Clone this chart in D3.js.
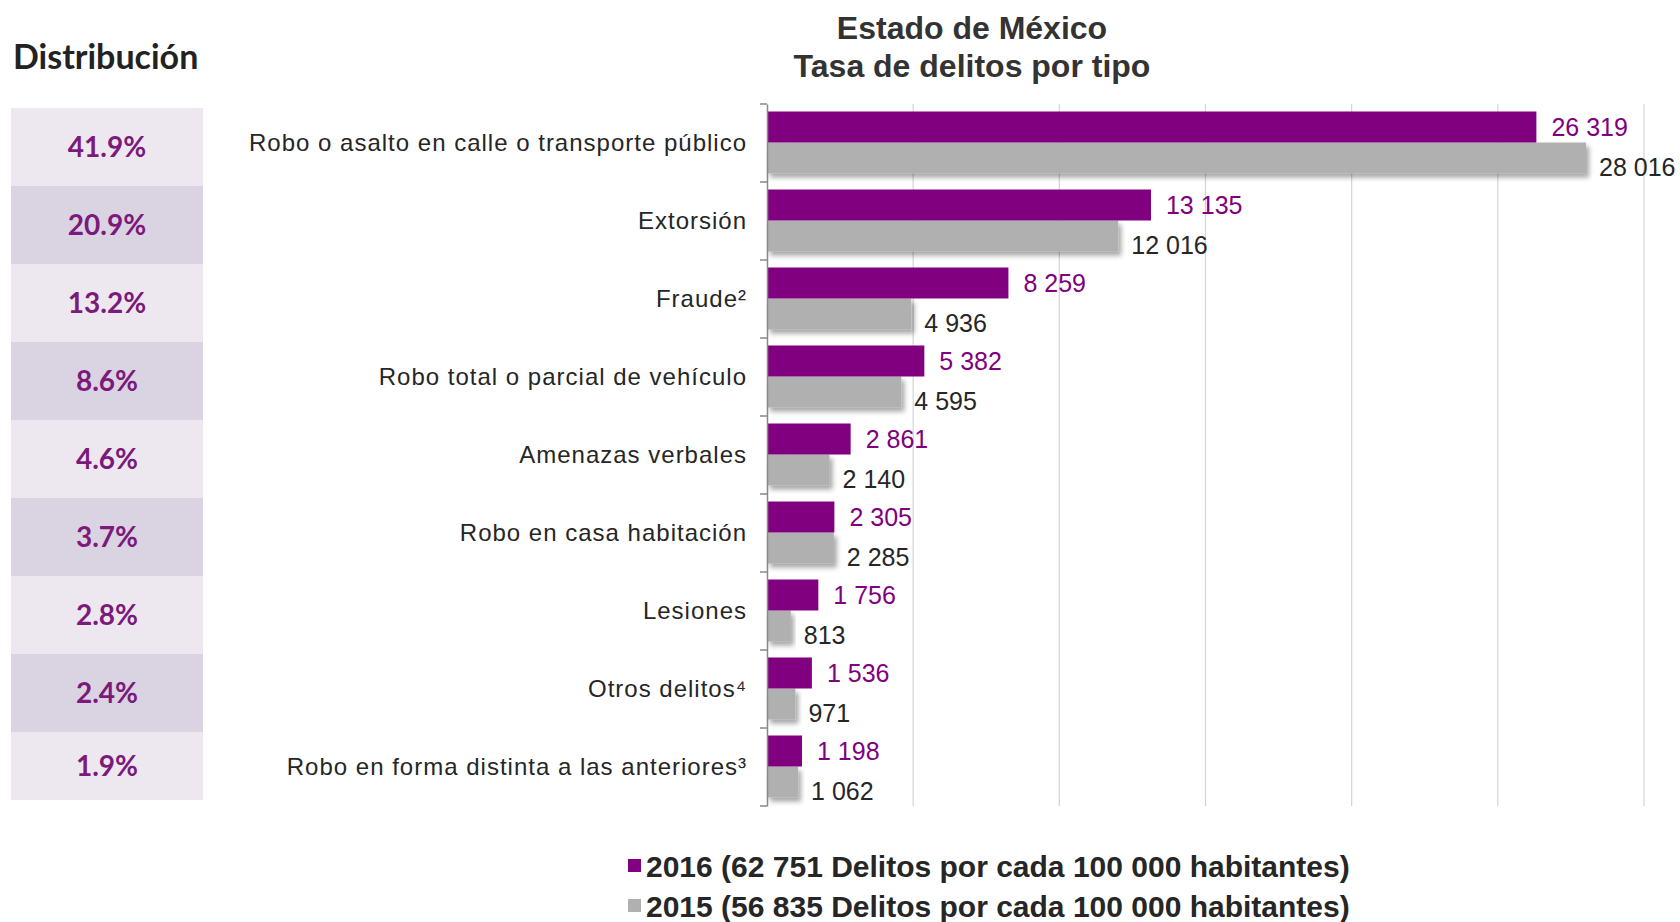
<!DOCTYPE html>
<html><head><meta charset="utf-8">
<script src="https://cdn.jsdelivr.net/npm/d3@7"></script>
<style>
html,body{margin:0;padding:0;background:#fff;}
svg{display:block;}
</style></head>
<body>
<svg id="chart" width="1680" height="922"></svg>
<script>
const categories = [
  "Robo o asalto en calle o transporte público",
  "Extorsión",
  "Fraude²",
  "Robo total o parcial de vehículo",
  "Amenazas verbales",
  "Robo en casa habitación",
  "Lesiones",
  "Otros delitos⁴",
  "Robo en forma distinta a las anteriores³"
];
const values2016 = [26319, 13135, 8259, 5382, 2861, 2305, 1756, 1536, 1198];
const values2015 = [28016, 12016, 4936, 4595, 2140, 2285, 813, 971, 1062];
const distribution = ["41.9%", "20.9%", "13.2%", "8.6%", "4.6%", "3.7%", "2.8%", "2.4%", "1.9%"];
const xTicks = [0, 5000, 10000, 15000, 20000, 25000, 30000];
const legendLabels = [
  "2016 (62 751 Delitos por cada 100 000 habitantes)",
  "2015 (56 835 Delitos por cada 100 000 habitantes)"
];
const titleLines = ["Estado de México", "Tasa de delitos por tipo"];

const PURPLE = "#800080", GRAY = "#b0b0b0", TXT = "#262626";
const FONT = "'Liberation Sans', Arial, sans-serif";
const svg = d3.select("#chart");
const fmt = v => d3.format(",")(v).replace(/,/g, " ");

const defs = svg.append("defs");
const f = defs.append("filter").attr("id","shadow").attr("x","-10%").attr("y","-20%").attr("width","130%").attr("height","170%");
f.append("feDropShadow").attr("dx",3).attr("dy",4).attr("stdDeviation",2.5).attr("flood-color","#000").attr("flood-opacity",0.35);

const x = d3.scaleLinear().domain([0, 30000]).range([767, 1644]);
const y = d3.scaleBand().domain(categories).range([104, 806]).padding(0);
const sub = d3.scaleBand().domain(["2016","2015"]).range([7.5, y.bandwidth()-8.5]).padding(0);

// Title
svg.append("g").selectAll("text").data(titleLines).join("text")
  .attr("x", 972).attr("y", (d,i) => 39 + i*37.5)
  .attr("text-anchor","middle")
  .attr("font-family", FONT)
  .attr("font-weight","bold").attr("font-size", 32).attr("fill","#333")
  .text(d => d);

// Distribution panel
svg.append("text").attr("x", 13).attr("y", 69)
  .attr("font-family","Lato, 'Open Sans', sans-serif").attr("font-weight","bold")
  .attr("font-size", 34).attr("fill","#222").text("Distribución");

const boxTops = categories.map(c => y(c) + 4);
const dist = svg.append("g");
dist.selectAll("rect").data(distribution).join("rect")
  .attr("x", 11).attr("width", 192)
  .attr("y", (d,i) => boxTops[i])
  .attr("height", (d,i) => i === distribution.length-1 ? 68 : y.bandwidth())
  .attr("fill", (d,i) => i % 2 === 0 ? "#ede8f0" : "#dad3e2");
dist.selectAll("text").data(distribution).join("text")
  .attr("x", 107).attr("y", (d,i) => boxTops[i] + (i === distribution.length-1 ? 34 : y.bandwidth()/2))
  .attr("dy","0.35em").attr("text-anchor","middle")
  .attr("font-family","Lato, 'Open Sans', sans-serif").attr("font-weight","bold")
  .attr("font-size", 28).attr("fill","#7b1a7b").text(d => d);

// Gridlines
svg.append("g").selectAll("line").data(xTicks.slice(1)).join("line")
  .attr("x1", d => x(d)).attr("x2", d => x(d))
  .attr("y1", 104).attr("y2", 806)
  .attr("stroke","#d4d4d4").attr("stroke-width",1.2);

// Bars
const groups = svg.append("g").selectAll("g").data(categories).join("g")
  .attr("transform", d => `translate(0,${y(d)})`);
groups.append("rect")
  .attr("x", x(0)).attr("y", sub("2015"))
  .attr("width", (d,i) => x(values2015[i]) - x(0)).attr("height", sub.bandwidth())
  .attr("fill", GRAY).attr("filter","url(#shadow)");
groups.append("rect")
  .attr("x", x(0)).attr("y", sub("2016"))
  .attr("width", (d,i) => x(values2016[i]) - x(0)).attr("height", sub.bandwidth())
  .attr("fill", PURPLE);

// Value labels
groups.append("text")
  .attr("x", (d,i) => x(values2016[i]) + 15)
  .attr("y", sub("2016") + sub.bandwidth()/2).attr("dy","0.35em")
  .attr("font-family", FONT).attr("font-size", 25)
  .attr("fill", PURPLE).text((d,i) => fmt(values2016[i]));
groups.append("text")
  .attr("x", (d,i) => x(values2015[i]) + 13)
  .attr("y", sub("2015") + sub.bandwidth()/2 + 9).attr("dy","0.35em")
  .attr("font-family", FONT).attr("font-size", 25)
  .attr("fill", TXT).text((d,i) => fmt(values2015[i]));

// Y axis
const yAxis = d3.axisLeft(y).tickSize(0).tickPadding(20);
const ax = svg.append("g").attr("transform", `translate(${x(0)},0)`).call(yAxis);
ax.select(".domain").attr("stroke","#888").attr("stroke-width",1.5);
ax.selectAll(".tick text")
  .attr("font-family", FONT).attr("font-size", 24)
  .attr("letter-spacing","1px").attr("fill", TXT);
// boundary ticks
const bounds = categories.map(c => y(c)).concat([y.range()[1]]);
ax.append("g").selectAll("line").data(bounds).join("line")
  .attr("x1", -7).attr("x2", 0).attr("y1", d => d).attr("y2", d => d)
  .attr("stroke","#888").attr("stroke-width",1.5);

// Legend
const leg = svg.append("g").selectAll("g").data(legendLabels).join("g")
  .attr("transform", (d,i) => `translate(628,${866 + i*40})`);
leg.append("rect").attr("x",0).attr("y",-7).attr("width",13).attr("height",13)
  .attr("fill", (d,i) => i === 0 ? PURPLE : GRAY);
leg.append("text").attr("x", 18).attr("dy","0.35em")
  .attr("font-family", FONT).attr("font-weight","bold")
  .attr("font-size", 30).attr("fill", TXT).text(d => d);
</script>
</body></html>
